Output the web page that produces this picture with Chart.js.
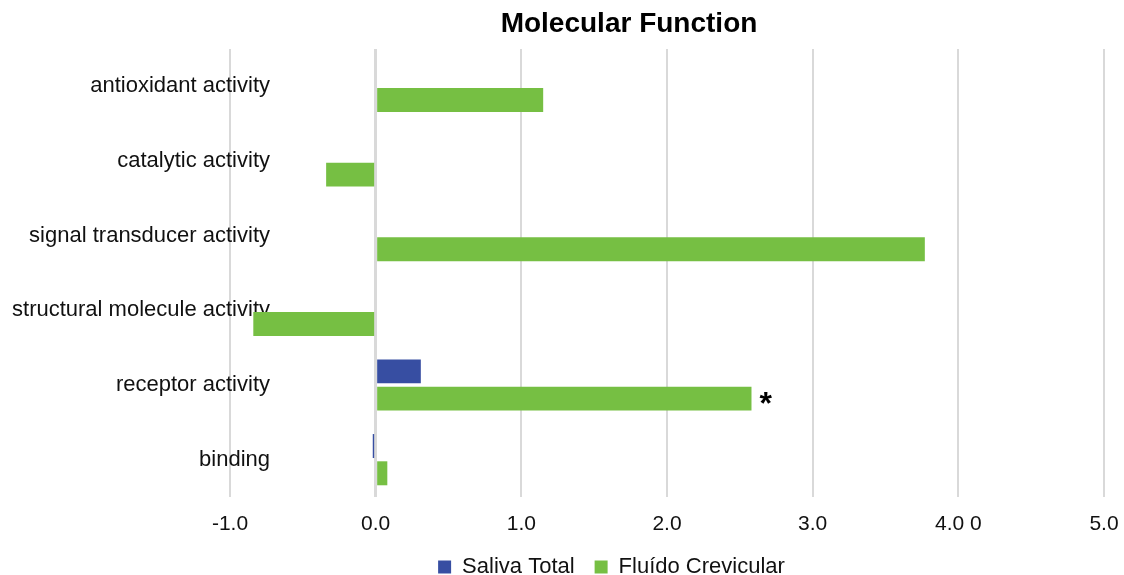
<!DOCTYPE html>
<html>
<head>
<meta charset="utf-8">
<script src="https://cdn.jsdelivr.net/npm/chart.js@4/dist/chart.umd.min.js"></script>
<style>
  html, body { margin: 0; padding: 0; background: #fff; }
  #wrap { width: 1124px; height: 575px; }
</style>
</head>
<body>
<div id="wrap"><canvas id="c" width="1124" height="575"></canvas></div>
<script>
// GO molecular function categories, top to bottom
const categories = [
  'antioxidant activity',
  'catalytic activity',
  'signal transducer activity',
  'structural molecule activity',
  'receptor activity',
  'binding'
];
const seriesNames = ['Saliva Total', 'Fluído Crevicular'];
const salivaTotal = [null, null, null, null, 0.31, -0.02];
const fluidoCrevicular = [1.15, -0.34, 3.77, -0.84, 2.58, 0.08];
const xTickValues = [-1, 0, 1, 2, 3, 4, 5];
const xTickLabels = ['-1.0', '0.0', '1.0', '2.0', '3.0', '4.0 0', '5.0'];
const chartTitle = 'Molecular Function';
// significance marker placed after one bar
const marker = { dataset: 1, index: 4, text: '*' };

const FONT = "'Liberation Sans', Arial, Helvetica, sans-serif";
const LABEL_FONT_SIZE = 22;
const PAD_LEFT = 119;      // outer left padding (also centres the legend)
const AXIS_LEFT = 230;     // left edge of the plot area
const LABEL_RIGHT = 270;   // right edge of the category labels

// category labels sit over the plot's left margin, right-aligned
const measureCtx = document.createElement('canvas').getContext('2d');
measureCtx.font = LABEL_FONT_SIZE + 'px ' + FONT;
const widestLabel = Math.max(...categories.map(c => measureCtx.measureText(c).width));

const overlay = {
  id: 'overlay',
  afterDraw(chart) {
    const ctx = chart.ctx;
    ctx.save();
    ctx.fillStyle = '#000';
    ctx.font = 'bold 28px ' + FONT;
    ctx.textAlign = 'center';
    ctx.textBaseline = 'middle';
    ctx.fillText(chartTitle, 629, 24);

    const bar = chart.getDatasetMeta(marker.dataset).data[marker.index];
    ctx.font = 'bold 32px ' + FONT;
    ctx.textAlign = 'left';
    ctx.textBaseline = 'alphabetic';
    ctx.fillText(marker.text, bar.x + 8, bar.y + 15);
    ctx.restore();
  }
};

new Chart(document.getElementById('c'), {
  type: 'bar',
  data: {
    labels: categories,
    datasets: [
      { label: seriesNames[0], data: salivaTotal, backgroundColor: '#374ea2' },
      { label: seriesNames[1], data: fluidoCrevicular, backgroundColor: '#76bf43' }
    ]
  },
  options: {
    indexAxis: 'y',
    responsive: false,
    animation: false,
    categoryPercentage: 0.73,
    barPercentage: 0.88,
    layout: { padding: { top: 49, right: 20, left: PAD_LEFT, bottom: -13 } },
    scales: {
      x: {
        min: -1,
        max: 5,
        grid: {
          color: '#d9d9d9',
          lineWidth: (c) => (c.tick && c.tick.value === 0 ? 3 : 2),
          drawTicks: false
        },
        border: { display: false },
        ticks: {
          stepSize: 1,
          autoSkip: false,
          maxRotation: 0,
          padding: 15,
          color: '#111',
          font: { family: FONT, size: 21 },
          callback: (v) => {
            const i = xTickValues.indexOf(v);
            return i >= 0 ? xTickLabels[i] : '';
          }
        },
        afterFit: (s) => {
          s.height = 39;
          s.paddingLeft = 0;
          s.paddingRight = 0;
        }
      },
      y: {
        grid: { display: false, drawTicks: false },
        border: { display: false },
        ticks: {
          mirror: true,
          crossAlign: 'far',
          padding: LABEL_RIGHT - AXIS_LEFT - widestLabel,
          color: '#111',
          font: { family: FONT, size: LABEL_FONT_SIZE }
        },
        afterFit: (s) => { s.width = AXIS_LEFT - PAD_LEFT; }
      }
    },
    plugins: {
      title: { display: false },
      tooltip: { enabled: false },
      legend: {
        position: 'bottom',
        labels: {
          boxWidth: 13,
          boxHeight: 13,
          padding: 20,
          color: '#111',
          font: { family: FONT, size: 22 }
        }
      }
    }
  },
  plugins: [overlay]
});
</script>
</body>
</html>
